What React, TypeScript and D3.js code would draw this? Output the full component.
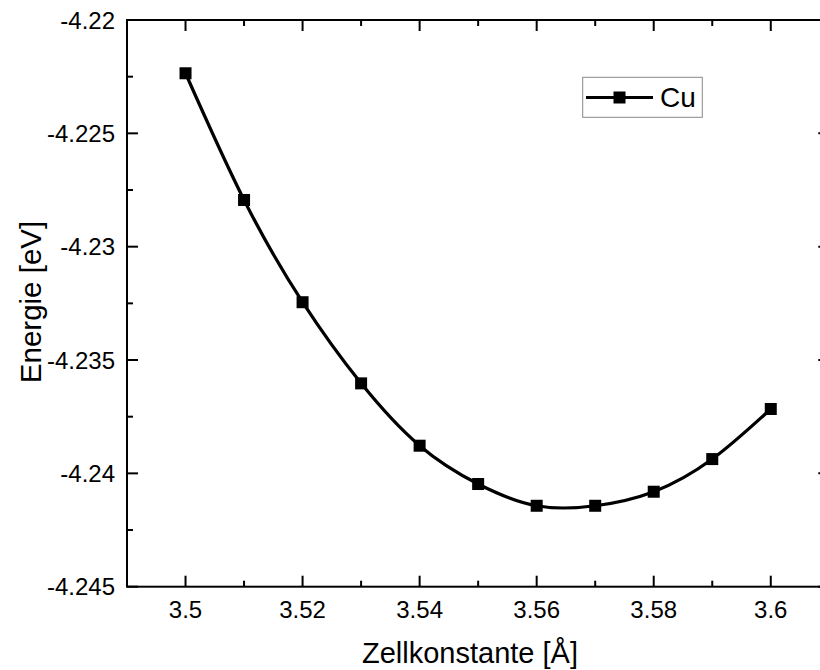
import React from "react";
import * as d3 from "d3";

const latticeConstants = [3.5, 3.51, 3.52, 3.53, 3.54, 3.55, 3.56, 3.57, 3.58, 3.59, 3.6];
const energies = [-4.22235, -4.22794, -4.23245, -4.23603, -4.23878, -4.24047, -4.24143, -4.24143, -4.24081, -4.23937, -4.23716];
const xTickValues = [3.5, 3.52, 3.54, 3.56, 3.58, 3.6];
const xTickLabels = ["3.5", "3.52", "3.54", "3.56", "3.58", "3.6"];
const xMinorValues = [3.51, 3.53, 3.55, 3.57, 3.59];
const yTickValues = [-4.22, -4.225, -4.23, -4.235, -4.24, -4.245];
const yTickLabels = ["-4.22", "-4.225", "-4.23", "-4.235", "-4.24", "-4.245"];
const yMinorValues = [-4.2225, -4.2275, -4.2325, -4.2375, -4.2425];
const seriesName = "Cu";
const xTitle = "Zellkonstante [Å]";
const yTitle = "Energie [eV]";

const W = 820;
const H = 670;
const left = 127;
const right = 829.3;
const top = 20;
const bottom = 586.7;
const FONT = "'Liberation Sans', Arial, sans-serif";

export default function App() {
  const x = d3.scaleLinear().domain([3.49, 3.61]).range([left, right]);
  const y = d3.scaleLinear().domain([-4.245, -4.22]).range([bottom, top]);
  const pts = latticeConstants.map((c, i) => [x(c), y(energies[i])] as [number, number]);
  const line = d3.line().curve(d3.curveNatural)(pts) || "";
  const major = 11;
  const minor = 6;
  const ms = 12;

  return (
    <svg width={W} height={H} style={{ position: "absolute", left: 0, top: 0, background: "#fff" }} fontFamily={FONT}>
      <rect x={0} y={0} width={W} height={H} fill="#fff" />
      {/* ticks */}
      <g stroke="#000" strokeWidth={2}>
        {xTickValues.map((v) => (
          <g key={"xm" + v}>
            <line x1={x(v)} x2={x(v)} y1={bottom} y2={bottom - major} />
            <line x1={x(v)} x2={x(v)} y1={top} y2={top + major} />
          </g>
        ))}
        {xMinorValues.map((v) => (
          <g key={"xn" + v}>
            <line x1={x(v)} x2={x(v)} y1={bottom} y2={bottom - minor} />
            <line x1={x(v)} x2={x(v)} y1={top} y2={top + minor} />
          </g>
        ))}
        {yTickValues.map((v) => (
          <g key={"ym" + v}>
            <line x1={left} x2={left + major} y1={y(v)} y2={y(v)} />
            <line x1={right} x2={right - major} y1={y(v)} y2={y(v)} />
          </g>
        ))}
        {yMinorValues.map((v) => (
          <g key={"yn" + v}>
            <line x1={left} x2={left + minor} y1={y(v)} y2={y(v)} />
            <line x1={right} x2={right - minor} y1={y(v)} y2={y(v)} />
          </g>
        ))}
      </g>
      <rect x={left} y={top} width={right - left} height={bottom - top} fill="none" stroke="#000" strokeWidth={2} />
      {/* tick labels */}
      <g fontSize={24} fill="#000">
        {xTickValues.map((v, i) => (
          <text key={"xl" + v} x={x(v)} y={617.5} textAnchor="middle">
            {xTickLabels[i]}
          </text>
        ))}
        {yTickValues.map((v, i) => (
          <text key={"yl" + v} x={115} y={y(v)} textAnchor="end" dominantBaseline="central">
            {yTickLabels[i]}
          </text>
        ))}
      </g>
      {/* titles */}
      <text x={470} y={663} textAnchor="middle" fontSize={29}>
        {xTitle}
      </text>
      <text transform={`translate(41, 302) rotate(-90)`} textAnchor="middle" fontSize={29.5}>
        {yTitle}
      </text>
      {/* series */}
      <path d={line} fill="none" stroke="#000" strokeWidth={3.2} />
      {pts.map(([px, py], i) => (
        <rect key={"p" + i} x={px - ms / 2} y={py - ms / 2} width={ms} height={ms} fill="#000" />
      ))}
      {/* legend */}
      <rect x={582.7} y={77.3} width={119.6} height={40} fill="#fff" stroke="#888" strokeWidth={1} />
      <line x1={586} x2={653} y1={97.5} y2={97.5} stroke="#000" strokeWidth={3.2} />
      <rect x={619.5 - ms / 2} y={97.5 - ms / 2} width={ms} height={ms} fill="#000" />
      <text x={660} y={107} fontSize={28}>
        {seriesName}
      </text>
    </svg>
  );
}
